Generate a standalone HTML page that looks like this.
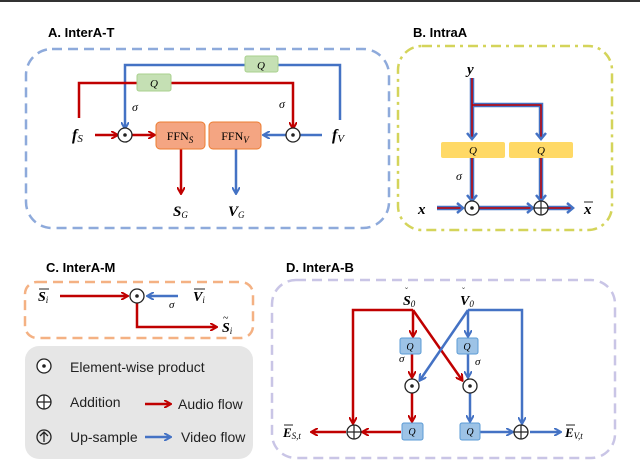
<!DOCTYPE html>
<html><head><meta charset="utf-8"><style>body{margin:0;background:#fff}svg{display:block}
.t{font-family:"Liberation Sans",sans-serif;font-weight:bold;font-size:13px}
.m{font-family:"Liberation Serif",serif;font-style:italic}
.l{font-family:"Liberation Sans",sans-serif;font-size:14px;fill:#222}</style></head><body>
<svg width="640" height="460" viewBox="0 0 640 460">
<defs>
<marker id="ar" markerWidth="8" markerHeight="8" refX="6" refY="4" orient="auto" markerUnits="userSpaceOnUse"><path d="M0,0 L7,4 L0,8" fill="none" stroke="#c00000" stroke-width="2"/></marker>
<marker id="ab" markerWidth="8" markerHeight="8" refX="6" refY="4" orient="auto" markerUnits="userSpaceOnUse"><path d="M0,0 L7,4 L0,8" fill="none" stroke="#4472c4" stroke-width="2"/></marker>
<g id="dot"><circle r="7" fill="#fff" stroke="#222" stroke-width="1.3"/><circle r="1.8" fill="#222"/></g>
<g id="plus"><circle r="7" fill="#fff" stroke="#222" stroke-width="1.3"/><path d="M-7,0H7M0,-7V7" stroke="#222" stroke-width="1.2"/></g>
</defs>
<rect x="0" y="0" width="640" height="2" fill="#333"/>
<!-- A -->
<text class="t" x="48" y="37">A. InterA-T</text>
<rect x="26" y="49" width="363" height="179" rx="26" fill="none" stroke="#8eaadb" stroke-width="2.5" stroke-dasharray="10,6"/>
<g fill="none" stroke-width="2.5">
<path d="M340,120V65H125V128" stroke="#4472c4" marker-end="url(#ab)"/>
<path d="M79,118V83H293V128" stroke="#c00000" marker-end="url(#ar)"/>
<path d="M95,135H117" stroke="#c00000" marker-end="url(#ar)"/>
<path d="M132,135H154" stroke="#c00000" marker-end="url(#ar)"/>
<path d="M322,135H264" stroke="#4472c4" marker-end="url(#ab)"/>
<path d="M181,149V193" stroke="#c00000" marker-end="url(#ar)"/>
<path d="M236,149V193" stroke="#4472c4" marker-end="url(#ab)"/>
</g>
<rect x="245" y="56" width="33" height="16" rx="2" fill="#c5e0b4" stroke="#a9d18e"/>
<text class="m" x="261" y="69" font-size="11" text-anchor="middle">Q</text>
<rect x="137" y="74" width="34" height="17" rx="2" fill="#c5e0b4" stroke="#a9d18e"/>
<text class="m" x="154" y="87" font-size="11" text-anchor="middle">Q</text>
<rect x="156" y="122" width="49" height="27" rx="4" fill="#f4a582" stroke="#ed7d31"/>
<text x="180" y="140" font-family="Liberation Serif" font-size="12" text-anchor="middle">FFN<tspan class="m" font-size="9" dy="3">S</tspan></text>
<rect x="209" y="122" width="52" height="27" rx="4" fill="#f4a582" stroke="#ed7d31"/>
<text x="235" y="140" font-family="Liberation Serif" font-size="12" text-anchor="middle">FFN<tspan class="m" font-size="9" dy="3">V</tspan></text>
<use href="#dot" x="125" y="135"/><use href="#dot" x="293" y="135"/>
<text class="m" x="132" y="111" font-size="12">σ</text><text class="m" x="279" y="108" font-size="12">σ</text>
<text class="m" x="72" y="140" font-size="16" font-weight="bold">f<tspan font-size="11" font-weight="normal" dy="2">S</tspan></text>
<text class="m" x="332" y="140" font-size="16" font-weight="bold">f<tspan font-size="11" font-weight="normal" dy="2">V</tspan></text>
<text class="m" x="173" y="216" font-size="15" font-weight="bold">S<tspan font-size="9" font-weight="normal" dy="2">G</tspan></text>
<text class="m" x="228" y="216" font-size="15" font-weight="bold">V<tspan font-size="9" font-weight="normal" dy="2">G</tspan></text>
<!-- B -->
<text class="t" x="413" y="37">B. IntraA</text>
<rect x="398" y="46" width="214" height="184" rx="24" fill="none" stroke="#d4d45a" stroke-width="2.5" stroke-dasharray="10,5,3,5"/>
<g fill="none">
<g stroke="#4472c4" stroke-width="4.5"><path d="M472,78V138M472,105H541V138M472,158V200M541,158V200M437,208H462M479,208H532M548,208H572"/></g>
<g stroke="#c00000" stroke-width="1.5"><path d="M472,78V138M472,105H541V138M472,158V200M541,158V200M437,208H462M479,208H532M548,208H572"/></g>
<g stroke="#4472c4" stroke-width="2.5"><path d="M467,133L472,139L477,133M536,133L541,139L546,133M467,195L472,201L477,195M536,195L541,201L546,195M457,203L463,208L457,213M527,203L533,208L527,213M567,203L573,208L567,213"/></g>
</g>
<rect x="441" y="142" width="64" height="16" rx="2" fill="#ffd966"/><text class="m" x="473" y="154" font-size="11" text-anchor="middle">Q</text>
<rect x="509" y="142" width="64" height="16" rx="2" fill="#ffd966"/><text class="m" x="541" y="154" font-size="11" text-anchor="middle">Q</text>
<use href="#dot" x="472" y="208"/><use href="#plus" x="541" y="208"/>
<text class="m" x="467" y="74" font-size="15" font-weight="bold">y</text>
<text class="m" x="456" y="180" font-size="12">σ</text>
<text class="m" x="418" y="214" font-size="15" font-weight="bold">x</text>
<text class="m" x="584" y="214" font-size="15" font-weight="bold">x</text><path d="M584,202H593" stroke="#222"/>
<!-- C -->
<text class="t" x="46" y="272">C. InterA-M</text>
<rect x="25" y="282" width="228" height="56" rx="12" fill="none" stroke="#f4b183" stroke-width="2.5" stroke-dasharray="10,6"/>
<g fill="none" stroke-width="2.5">
<path d="M60,296H127" stroke="#c00000" marker-end="url(#ar)"/>
<path d="M178,296H148" stroke="#4472c4" marker-end="url(#ab)"/>
<path d="M137,303V327H216" stroke="#c00000" marker-end="url(#ar)"/>
</g>
<use href="#dot" x="137" y="296"/>
<text class="m" x="38" y="301" font-size="14" font-weight="bold">S<tspan font-size="9" font-weight="normal" dy="2">i</tspan></text><path d="M39,289H49" stroke="#222"/>
<text class="m" x="193" y="301" font-size="14" font-weight="bold">V<tspan font-size="9" font-weight="normal" dy="2">i</tspan></text><path d="M194,289H205" stroke="#222"/>
<text class="m" x="169" y="308" font-size="11">σ</text>
<text class="m" x="222" y="332" font-size="14" font-weight="bold">S<tspan font-size="9" font-weight="normal" dy="2">i</tspan></text><text x="223" y="321" font-size="10">~</text>
<!-- legend -->
<rect x="25" y="346" width="228" height="113" rx="14" fill="#e6e6e6"/>
<use href="#dot" x="44" y="366"/>
<text class="l" x="70" y="372">Element-wise product</text>
<use href="#plus" x="44" y="402"/>
<text class="l" x="70" y="407">Addition</text>
<path d="M145,404H170" stroke="#c00000" stroke-width="2.5" marker-end="url(#ar)"/>
<text class="l" x="178" y="409">Audio flow</text>
<circle cx="44" cy="437" r="7" fill="none" stroke="#222" stroke-width="1.3"/><path d="M44,442V432M40,436L44,432L48,436" stroke="#222" fill="none" stroke-width="1.3"/>
<text class="l" x="70" y="442">Up-sample</text>
<path d="M145,437H170" stroke="#4472c4" stroke-width="2.5" marker-end="url(#ab)"/>
<text class="l" x="181" y="442">Video flow</text>
<!-- D -->
<text class="t" x="286" y="272">D. InterA-B</text>
<rect x="272" y="280" width="343" height="178" rx="24" fill="none" stroke="#c9c5e6" stroke-width="2.5" stroke-dasharray="10,6"/>
<g fill="none" stroke-width="2.5">
<path d="M413,310H353V423" stroke="#c00000" marker-end="url(#ar)"/>
<path d="M413,310V336" stroke="#c00000" marker-end="url(#ar)"/>
<path d="M412,352V377" stroke="#c00000" marker-end="url(#ar)"/>
<path d="M413,310L462,380" stroke="#c00000" marker-end="url(#ar)"/>
<path d="M468,310L420,380" stroke="#4472c4" marker-end="url(#ab)"/>
<path d="M468,310V336" stroke="#4472c4" marker-end="url(#ab)"/>
<path d="M468,352V377" stroke="#4472c4" marker-end="url(#ab)"/>
<path d="M468,310H522V423" stroke="#4472c4" marker-end="url(#ab)"/>
<path d="M412,393V421" stroke="#c00000" marker-end="url(#ar)"/>
<path d="M470,393V421" stroke="#4472c4" marker-end="url(#ab)"/>
<path d="M401,432H363" stroke="#c00000" marker-end="url(#ar)"/>
<path d="M346,432H312" stroke="#c00000" marker-end="url(#ar)"/>
<path d="M480,432H512" stroke="#4472c4" marker-end="url(#ab)"/>
<path d="M530,432H560" stroke="#4472c4" marker-end="url(#ab)"/>
</g>
<g fill="#9dc3e6" stroke="#5b9bd5">
<rect x="400" y="338" width="21" height="16" rx="2"/><rect x="457" y="338" width="21" height="16" rx="2"/>
<rect x="402" y="423" width="21" height="17" rx="2"/><rect x="460" y="423" width="20" height="17" rx="2"/>
</g>
<g class="m" font-size="10" text-anchor="middle"><text x="410" y="350">Q</text><text x="467" y="350">Q</text><text x="412" y="435">Q</text><text x="470" y="435">Q</text></g>
<text class="m" x="399" y="362" font-size="11">σ</text><text class="m" x="475" y="365" font-size="11">σ</text>
<use href="#dot" x="412" y="386"/><use href="#dot" x="470" y="386"/>
<use href="#plus" x="354" y="432"/><use href="#plus" x="521" y="432"/>
<text class="m" x="403" y="305" font-size="14" font-weight="bold">S<tspan font-size="9" font-weight="normal" dy="2">0</tspan></text><text x="405" y="294" font-size="9">˘</text>
<text class="m" x="460" y="305" font-size="14" font-weight="bold">V<tspan font-size="9" font-weight="normal" dy="2">0</tspan></text><text x="462" y="294" font-size="9">˘</text>
<text class="m" x="283" y="437" font-size="13" font-weight="bold">E<tspan font-size="9" font-weight="normal" dy="2">S,t</tspan></text><path d="M284,425H293" stroke="#222"/>
<text class="m" x="565" y="437" font-size="13" font-weight="bold">E<tspan font-size="9" font-weight="normal" dy="2">V,t</tspan></text><path d="M566,425H575" stroke="#222"/>
</svg>
</body></html>
